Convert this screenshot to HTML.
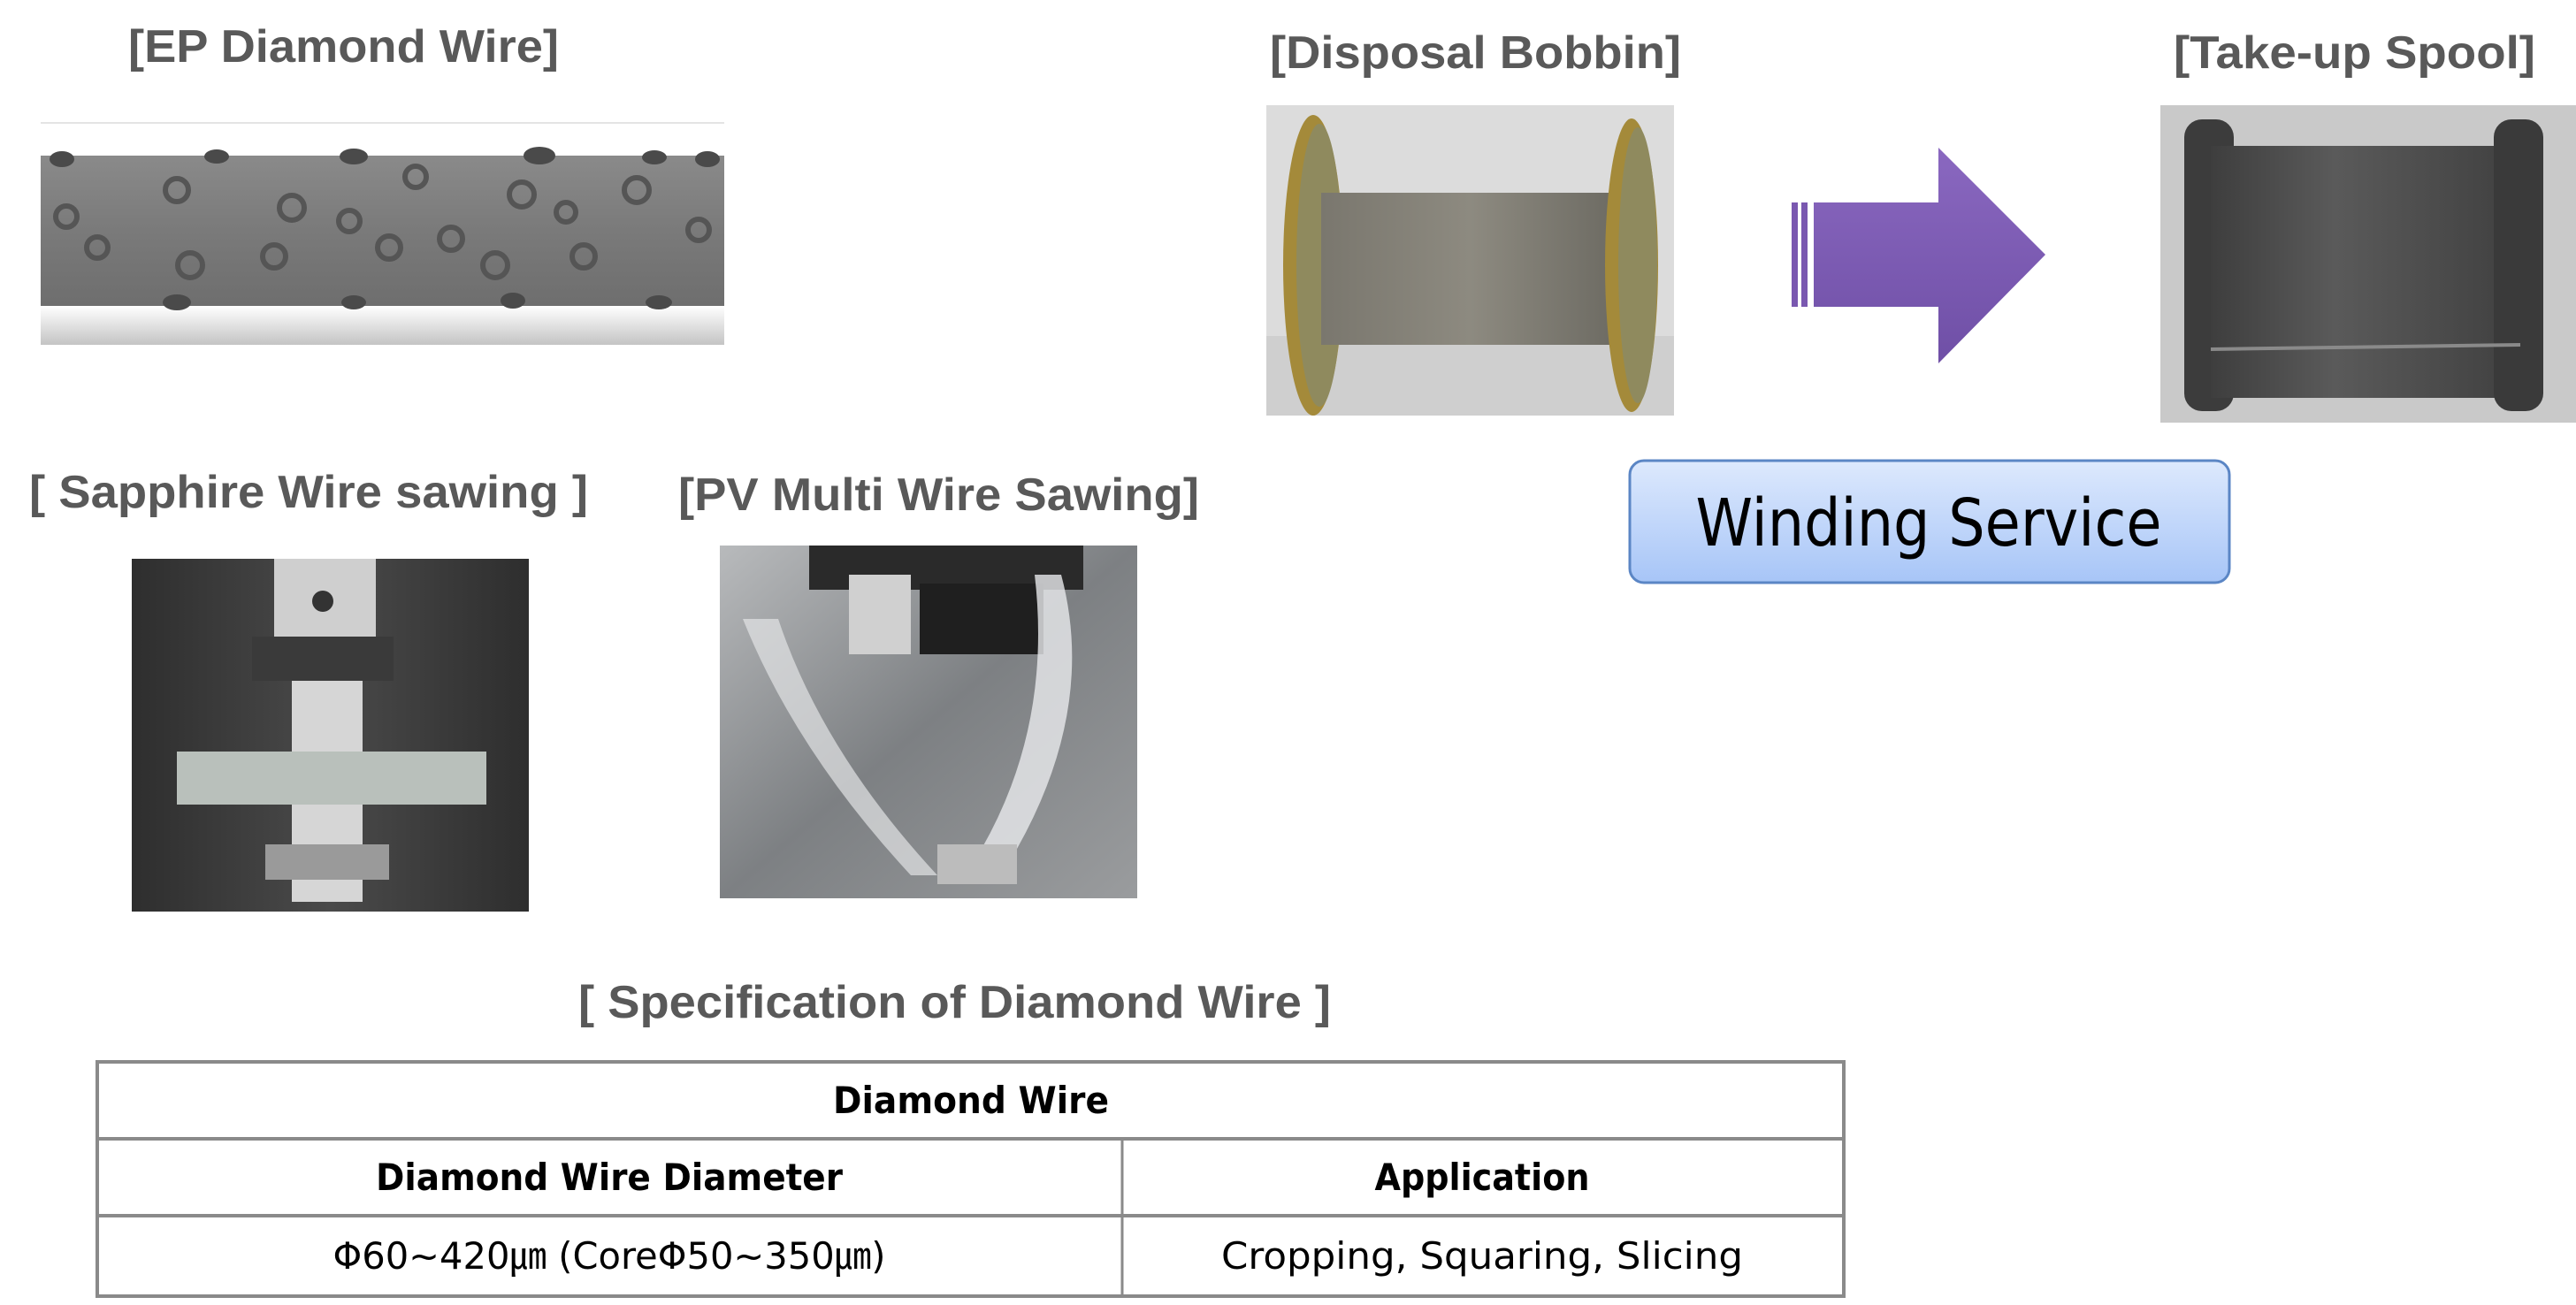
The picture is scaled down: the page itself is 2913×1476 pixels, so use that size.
<!DOCTYPE html>
<html><head><meta charset="utf-8"><style>
html,body{margin:0;padding:0;background:#fff;}
svg{display:block;}
</style></head><body>
<svg width="2913" height="1476" viewBox="0 0 2913 1476" xmlns="http://www.w3.org/2000/svg">
<defs>
<linearGradient id="wire" x1="0" y1="0" x2="0" y2="1">
<stop offset="0" stop-color="#8a8a8a"/><stop offset="0.5" stop-color="#7a7a7a"/><stop offset="1" stop-color="#6e6e6e"/></linearGradient>
<linearGradient id="below" x1="0" y1="0" x2="0" y2="1">
<stop offset="0" stop-color="#ffffff"/><stop offset="1" stop-color="#c4c4c4"/></linearGradient>
<linearGradient id="coil" x1="0" y1="0" x2="1" y2="0">
<stop offset="0" stop-color="#7a776e"/><stop offset="0.5" stop-color="#8d8a80"/><stop offset="1" stop-color="#6c6a62"/></linearGradient>
<linearGradient id="spool" x1="0" y1="0" x2="1" y2="0">
<stop offset="0" stop-color="#3e3e3e"/><stop offset="0.4" stop-color="#5a5a5a"/><stop offset="1" stop-color="#404040"/></linearGradient>
<linearGradient id="btn" x1="0" y1="0" x2="0" y2="1">
<stop offset="0" stop-color="#dde9fd"/><stop offset="1" stop-color="#a7c5f7"/></linearGradient>
<linearGradient id="arr" x1="0" y1="0" x2="0" y2="1">
<stop offset="0" stop-color="#8a68c0"/><stop offset="1" stop-color="#6f4fa6"/></linearGradient>
<linearGradient id="sap" x1="0" y1="0" x2="1" y2="0">
<stop offset="0" stop-color="#2e2e2e"/><stop offset="0.5" stop-color="#4a4a4a"/><stop offset="1" stop-color="#2e2e2e"/></linearGradient>
<linearGradient id="pv" x1="0" y1="0" x2="1" y2="1">
<stop offset="0" stop-color="#b8babc"/><stop offset="0.5" stop-color="#7d8083"/><stop offset="1" stop-color="#9a9c9e"/></linearGradient>
</defs>

<!-- Titles -->
<g font-family="'Liberation Sans', sans-serif" font-weight="bold" fill="#595959" font-size="52">
<text x="145" y="70" textLength="487" lengthAdjust="spacingAndGlyphs">[EP Diamond Wire]</text>
<text x="1436" y="77" textLength="465" lengthAdjust="spacingAndGlyphs">[Disposal Bobbin]</text>
<text x="2458" y="77" textLength="409" lengthAdjust="spacingAndGlyphs">[Take-up Spool]</text>
<text x="33" y="574" textLength="632" lengthAdjust="spacingAndGlyphs">[ Sapphire Wire sawing ]</text>
<text x="767" y="577" textLength="589" lengthAdjust="spacingAndGlyphs">[PV Multi Wire Sawing]</text>
<text x="654" y="1151" textLength="851" lengthAdjust="spacingAndGlyphs">[ Specification of Diamond Wire ]</text>
</g>

<!-- EP wire image -->
<line x1="46" y1="139" x2="819" y2="139" stroke="#e4e4e4" stroke-width="2"/>
<rect x="46" y="176" width="773" height="170" fill="url(#wire)"/>
<rect x="46" y="346" width="773" height="44" fill="url(#below)"/>
<g fill="none" stroke="#555" stroke-width="6">
<circle cx="75" cy="245" r="12"/><circle cx="200" cy="215" r="13"/><circle cx="215" cy="300" r="14"/><circle cx="310" cy="290" r="13"/><circle cx="330" cy="235" r="14"/><circle cx="395" cy="250" r="12"/><circle cx="440" cy="280" r="13"/><circle cx="470" cy="200" r="12"/><circle cx="510" cy="270" r="13"/><circle cx="560" cy="300" r="14"/><circle cx="590" cy="220" r="14"/><circle cx="660" cy="290" r="13"/><circle cx="720" cy="215" r="14"/><circle cx="790" cy="260" r="12"/><circle cx="110" cy="280" r="12"/><circle cx="640" cy="240" r="11"/>
</g>
<g fill="#4a4a4a">
<ellipse cx="70" cy="180" rx="14" ry="9"/><ellipse cx="245" cy="177" rx="14" ry="8"/><ellipse cx="400" cy="177" rx="16" ry="9"/><ellipse cx="610" cy="176" rx="18" ry="10"/><ellipse cx="740" cy="178" rx="14" ry="8"/><ellipse cx="800" cy="180" rx="14" ry="9"/>
<ellipse cx="200" cy="342" rx="16" ry="9"/><ellipse cx="400" cy="342" rx="14" ry="8"/><ellipse cx="580" cy="340" rx="14" ry="9"/><ellipse cx="745" cy="342" rx="15" ry="8"/>
</g>

<!-- Disposal bobbin -->
<rect x="1432" y="119" width="461" height="351" fill="#dcdcdc"/>
<rect x="1432" y="380" width="461" height="90" fill="#cfcfcf"/>
<ellipse cx="1485" cy="300" rx="34" ry="170" fill="#a48a3a"/>
<ellipse cx="1492" cy="300" rx="26" ry="160" fill="#8f8a5e"/>
<rect x="1494" y="218" width="338" height="172" fill="url(#coil)"/>
<ellipse cx="1845" cy="300" rx="30" ry="166" fill="#a48a3a"/>
<ellipse cx="1852" cy="300" rx="22" ry="156" fill="#8f8a5e"/>

<!-- Arrow -->
<rect x="2026" y="229" width="7" height="118" fill="#7a58b0"/>
<rect x="2037" y="229" width="7" height="118" fill="#7a58b0"/>
<polygon points="2051,229 2192,229 2192,167 2313,288 2192,411 2192,347 2051,347" fill="url(#arr)"/>

<!-- Take-up spool -->
<rect x="2443" y="119" width="470" height="359" fill="#c9c9c9"/>
<rect x="2470" y="135" width="56" height="330" rx="20" fill="#3c3c3c"/>
<rect x="2500" y="165" width="350" height="285" fill="url(#spool)"/>
<rect x="2820" y="135" width="56" height="330" rx="20" fill="#3a3a3a"/>
<line x1="2500" y1="395" x2="2850" y2="390" stroke="#8a8a8a" stroke-width="4"/>

<!-- Winding service -->
<rect x="1843" y="521" width="678" height="138" rx="16" fill="url(#btn)" stroke="#5b86c5" stroke-width="3"/>
<text x="2181" y="617" text-anchor="middle" font-family="'DejaVu Sans', sans-serif" font-size="74" fill="#000" textLength="527" lengthAdjust="spacingAndGlyphs">Winding Service</text>

<!-- Sapphire image -->
<rect x="149" y="632" width="449" height="399" fill="url(#sap)"/>
<rect x="310" y="632" width="115" height="90" fill="#cfcfcf"/>
<rect x="285" y="720" width="160" height="50" fill="#3a3a3a"/>
<rect x="330" y="770" width="80" height="250" fill="#d6d6d6"/>
<rect x="200" y="850" width="350" height="60" fill="#b9c0bb"/>
<rect x="300" y="955" width="140" height="40" fill="#9a9a9a"/>
<circle cx="365" cy="680" r="12" fill="#333"/>

<!-- PV image -->
<rect x="814" y="617" width="472" height="399" fill="url(#pv)"/>
<rect x="915" y="617" width="310" height="50" fill="#2a2a2a"/>
<rect x="1040" y="660" width="140" height="80" fill="#1f1f1f"/>
<rect x="960" y="650" width="70" height="90" fill="#d0d0d0"/>
<path d="M1200,650 Q1240,800 1150,960 L1110,960 Q1190,820 1170,650 Z" fill="#e8eaec" opacity="0.8"/>
<path d="M840,700 Q900,850 1030,990 L1060,990 Q930,850 880,700 Z" fill="#e2e4e6" opacity="0.7"/>
<rect x="1060" y="955" width="90" height="45" fill="#bcbcbc"/>

<!-- Table -->
<g fill="none" stroke="#8a8a8a" stroke-width="4">
<rect x="110" y="1201" width="1975" height="265"/>
<line x1="110" y1="1288" x2="2085" y2="1288"/>
<line x1="110" y1="1375" x2="2085" y2="1375"/>
</g>
<line x1="1269" y1="1288" x2="1269" y2="1466" stroke="#8a8a8a" stroke-width="3"/>
<g font-family="'DejaVu Sans', sans-serif" font-size="42" text-anchor="middle" fill="#000">
<text x="1098" y="1259" font-weight="bold" textLength="312" lengthAdjust="spacingAndGlyphs">Diamond Wire</text>
<text x="689" y="1346" font-weight="bold" textLength="528" lengthAdjust="spacingAndGlyphs">Diamond Wire Diameter</text>
<text x="1676" y="1346" font-weight="bold" textLength="243" lengthAdjust="spacingAndGlyphs">Application</text>
<text x="689" y="1435" textLength="625" lengthAdjust="spacingAndGlyphs">Φ60~420㎛ (CoreΦ50~350㎛)</text>
<text x="1676" y="1435" textLength="590" lengthAdjust="spacingAndGlyphs">Cropping,  Squaring,  Slicing</text>
</g>
</svg>
</body></html>
